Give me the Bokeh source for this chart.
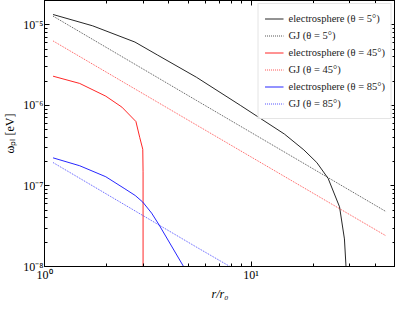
from bokeh.plotting import figure
from bokeh.models import (LogAxis, FixedTicker, CustomJSTickFormatter, Range1d,
                          Legend, LegendItem, Title)
from bokeh.embed import file_html
from bokeh.resources import INLINE

# ---- data ----
r_es5 = [1.1, 1.71, 2.74, 3.53, 5.44, 8.87, 14.5, 18.0, 20.8, 23.6, 26.8, 28.3, 28.8, 28.9]
w_es5 = [1.34e-5, 9.7e-6, 6.1e-6, 4.2e-6, 2.23e-6, 1.0e-6, 4.4e-7, 2.8e-7, 1.95e-7,
         1.24e-7, 5.5e-8, 2.2e-8, 1.0e-8, 1e-9]
r_gj5 = [1.1, 5.44, 45.0]
w_gj5 = [1.28e-5, 1.15e-6, 4.8e-8]

r_es45 = [1.1, 1.48, 1.98, 2.37, 2.77, 2.89, 2.99, 3.0, 3.0]
w_es45 = [2.3e-6, 1.87e-6, 1.3e-6, 9.5e-7, 6.3e-7, 4.0e-7, 2.85e-7, 1.5e-7, 1e-9]
r_gj45 = [1.1, 5.44, 45.0]
w_gj45 = [6.3e-6, 5.7e-7, 2.4e-8]

r_es85 = [1.1, 1.48, 1.98, 2.45, 2.75, 2.99, 3.3, 3.59, 4.71]
w_es85 = [2.23e-7, 1.78e-7, 1.3e-7, 9.2e-8, 7.6e-8, 6.3e-8, 4.6e-8, 3.27e-8, 1.0e-8]
r_gj85 = [1.1, 5.44, 7.9]
w_gj85 = [1.95e-7, 1.74e-8, 1.0e-8]

labels = ["electrosphere (θ = 5°)", "GJ (θ = 5°)",
          "electrosphere (θ = 45°)", "GJ (θ = 45°)",
          "electrosphere (θ = 85°)", "GJ (θ = 85°)"]

x_major = [1, 10]
y_major = [1e-8, 1e-7, 1e-6, 1e-5]
X_MIN, X_MAX = 1, 50
Y_MIN, Y_MAX = 1e-8, 2e-5

FONT = "Liberation Serif"

p = figure(width=395, height=300, x_axis_type="log", y_axis_type="log",
           x_range=Range1d(X_MIN, X_MAX), y_range=Range1d(Y_MIN, Y_MAX),
           output_backend="svg", toolbar_location=None,
           min_border_left=34, min_border_right=0, min_border_top=0, min_border_bottom=0)

x_minor = [m * d for d in (1, 10) for m in range(2, 10) if m * d < X_MAX]
y_minor = [m * d for d in y_major for m in range(2, 10) if m * d <= Y_MAX]
xt = FixedTicker(ticks=x_major, minor_ticks=x_minor)
yt = FixedTicker(ticks=y_major, minor_ticks=y_minor)

fmt = CustomJSTickFormatter(code="""
const e = Math.round(Math.log10(tick));
const m = {'-':'\\u207b','0':'\\u2070','1':'\\u00b9','2':'\\u00b2','3':'\\u00b3','4':'\\u2074',
           '5':'\\u2075','6':'\\u2076','7':'\\u2077','8':'\\u2078','9':'\\u2079'};
return '10' + String(e).split('').map(c => m[c]).join('');
""")
blank = CustomJSTickFormatter(code="return '';")

def style_axis(ax, ticker, labels_on):
    ax.ticker = ticker
    ax.major_tick_in = 5
    ax.major_tick_out = 0
    ax.minor_tick_in = 3
    ax.minor_tick_out = 0
    ax.axis_line_color = "black"
    ax.major_tick_line_color = "black"
    ax.minor_tick_line_color = "black"
    if labels_on:
        ax.formatter = fmt
        ax.major_label_text_font = FONT
        ax.major_label_text_font_size = "12px"
        ax.major_label_text_color = "black"
        ax.major_label_standoff = 1
        ax.axis_label_text_font = FONT
        ax.axis_label_text_font_size = "12px"
        ax.axis_label_text_color = "black"
        ax.axis_label_standoff = 3
    else:
        ax.formatter = blank
        ax.major_label_text_font_size = "1px"
        ax.major_label_standoff = 0

style_axis(p.xaxis[0], xt, True)
style_axis(p.yaxis[0], yt, True)
p.yaxis[0].axis_label = "ωₚₗ [eV]"
p.yaxis[0].axis_label_text_font_style = "normal"

xtitle = Title(text="r/r₀", align="center", text_font=FONT, text_font_size="12px",
               text_font_style="italic", text_color="black", standoff=0, offset=0)
p.add_layout(xtitle, "below")

top = LogAxis()
style_axis(top, xt, False)
right = LogAxis()
style_axis(right, yt, False)
p.add_layout(top, "above")
p.add_layout(right, "right")

p.xgrid.visible = False
p.ygrid.visible = False
p.outline_line_color = "black"

series = [
    (r_es5, w_es5, "black", None), (r_gj5, w_gj5, "black", "1 1"),
    (r_es45, w_es45, "red", None), (r_gj45, w_gj45, "red", "1 1"),
    (r_es85, w_es85, "blue", None), (r_gj85, w_gj85, "blue", "1 1"),
]
items = []
for (xs, ys, c, dash), lab in zip(series, labels):
    if dash is None:
        r = p.line(xs, ys, line_color=c, line_width=1.0, line_alpha=0.85)
    else:
        r = p.line(xs, ys, line_color=c, line_width=0.9, line_dash=dash, line_alpha=0.75)
    items.append(LegendItem(label=lab, renderers=[r]))

leg = Legend(items=items, location="top_right")
leg.label_text_font = FONT
leg.label_text_font_size = "10.5px"
leg.label_text_color = "#222222"
leg.label_height = 17
leg.glyph_height = 17
leg.glyph_width = 19
leg.spacing = 0
leg.padding = 6
leg.margin = 3
leg.label_standoff = 5
leg.border_line_color = "#cccccc"
leg.border_line_width = 1
leg.background_fill_alpha = 0.85
p.add_layout(leg)

open("out.html", "w").write(file_html(p, INLINE))
